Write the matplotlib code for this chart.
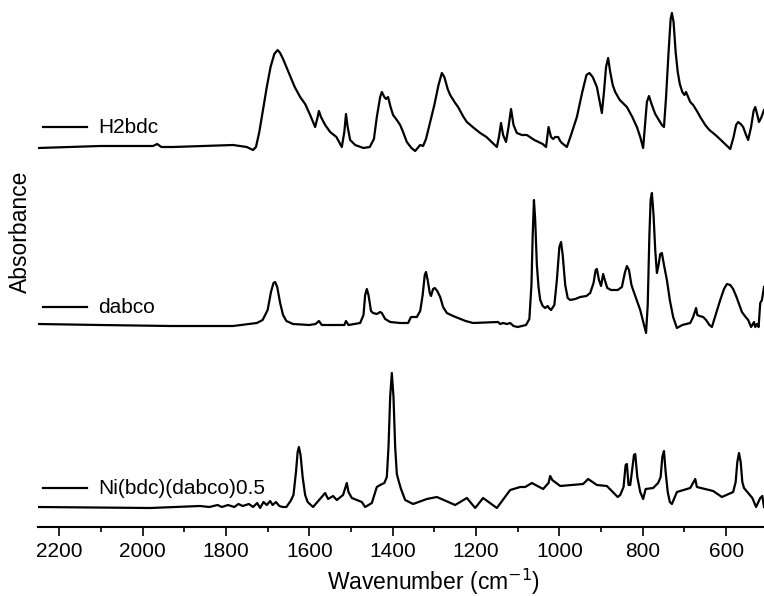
import matplotlib.pyplot as plt
from matplotlib.ticker import MultipleLocator

plt.rcParams['font.family'] = ['Liberation Sans', 'DejaVu Sans']

# --- IR spectra (wavenumber in cm-1, absorbance in a.u.) ---
h2bdc_wn = [2250, 2102, 2000, 1975, 1965, 1955, 1927, 1783, 1750, 1735, 1728, 1720,
            1712, 1702, 1693,
            1684, 1676, 1670, 1663, 1655, 1646, 1635, 1622, 1610, 1598, 1586, 1580,
            1577, 1572, 1562, 1550, 1535, 1522, 1516, 1512, 1508, 1502, 1490, 1470,
            1455, 1445, 1438, 1430, 1426, 1420, 1416, 1411, 1405, 1399, 1390, 1382,
            1375, 1366, 1355, 1346, 1338, 1334, 1327, 1320, 1310, 1300, 1290, 1282,
            1276, 1268, 1262, 1250, 1243, 1230, 1222, 1205, 1190, 1175, 1160, 1150,
            1145, 1140, 1135, 1128, 1122, 1116, 1110, 1102, 1090, 1078, 1060, 1040,
            1032, 1026, 1020, 1015, 1010, 1003, 998, 994, 988, 982, 972, 958, 945,
            935, 928, 920, 910, 903, 898, 893, 888, 883, 878, 872, 866, 855, 838, 825,
            814, 806, 799, 795, 790, 785, 778, 770, 760, 754, 749, 744, 738, 733, 730,
            726, 721, 716, 711, 705, 700, 696, 692, 686, 679, 670, 662, 650, 640, 631,
            620, 605, 590, 582, 576, 571, 565, 559, 552, 547, 540, 534, 530, 525, 521,
            515, 509]
h2bdc_abs = [-0.01, 0.01, 0.01, 0.01, 0.03, 0.0, 0.0, 0.02, 0.0, -0.03, 0.0, 0.15,
             0.35, 0.60, 0.80,
             0.93, 0.97, 0.94, 0.88, 0.80, 0.71, 0.60, 0.50, 0.43, 0.32, 0.20, 0.30,
             0.36, 0.30, 0.22, 0.15, 0.10, 0.0, 0.15, 0.33, 0.20, 0.07, 0.02, -0.01,
             0.0, 0.08, 0.30, 0.50, 0.55, 0.50, 0.48, 0.50, 0.40, 0.32, 0.27, 0.22,
             0.15, 0.05, -0.01, -0.04, 0.0, 0.02, 0.01, 0.08, 0.25, 0.42, 0.62, 0.74,
             0.70, 0.58, 0.52, 0.44, 0.40, 0.30, 0.25, 0.19, 0.14, 0.10, 0.04, 0.0,
             0.10, 0.24, 0.12, 0.05, 0.20, 0.38, 0.22, 0.14, 0.12, 0.12, 0.07, 0.03,
             0.0, 0.20, 0.10, 0.08, 0.10, 0.10, 0.06, 0.04, 0.02, 0.0, 0.12, 0.30, 0.55,
             0.72, 0.74, 0.70, 0.60, 0.45, 0.34, 0.55, 0.80, 0.89, 0.75, 0.62, 0.55,
             0.47, 0.40, 0.30, 0.20, 0.10, -0.01, 0.20, 0.45, 0.51, 0.42, 0.33, 0.26,
             0.22, 0.20, 0.50, 0.95, 1.28, 1.34, 1.25, 0.95, 0.75, 0.63, 0.55, 0.52,
             0.55, 0.51, 0.45, 0.42, 0.36, 0.30, 0.22, 0.17, 0.14, 0.10, 0.04, -0.02,
             0.10, 0.22, 0.25, 0.23, 0.20, 0.12, 0.07, 0.20, 0.36, 0.40, 0.32, 0.25,
             0.30, 0.37]

dabco_wn = [2251, 2102, 1934, 1783, 1726, 1712, 1700, 1692, 1686, 1682, 1677, 1670,
            1663, 1655, 1639, 1600, 1585, 1577, 1570, 1540, 1516, 1512, 1506, 1478,
            1470, 1466, 1462, 1458, 1452, 1447, 1438, 1430, 1426, 1418, 1406, 1382,
            1363, 1356, 1342, 1334, 1328, 1323, 1320, 1316, 1311, 1308, 1303, 1299,
            1293, 1286, 1279, 1270, 1255, 1243, 1225, 1207, 1147, 1142, 1135, 1126,
            1118, 1110, 1100, 1080, 1072, 1067, 1064, 1061, 1058, 1054, 1050, 1046,
            1040, 1034, 1028, 1025, 1020, 1012, 1006, 1000, 996, 992, 986, 980, 974,
            962, 950, 935, 926, 918, 913, 910, 905, 900, 895, 891, 885, 876, 860, 850,
            843, 838, 833, 827, 823, 812, 806, 797, 792, 788, 784, 781, 778, 774, 770,
            766, 762, 758, 754, 749, 742, 735, 727, 718, 705, 686, 679, 675, 672, 669,
            664, 655, 648, 640, 634, 625, 614, 605, 598, 590, 583, 575, 562, 555, 547,
            540, 537, 533, 530, 526, 522, 518, 514, 509]
dabco_abs = [0.01, 0.0, -0.01, -0.01, 0.02, 0.05, 0.15, 0.33, 0.42, 0.43, 0.38, 0.22,
             0.10, 0.04, 0.01, 0.0, 0.01, 0.04, 0.0, 0.0, 0.0, 0.04, 0.0, 0.02,
             0.10, 0.30, 0.36, 0.30, 0.14, 0.12, 0.11, 0.13, 0.12, 0.06, 0.03, 0.02,
             0.02, 0.08, 0.08, 0.14, 0.30, 0.50, 0.53, 0.45, 0.32, 0.29, 0.36, 0.37,
             0.34, 0.28, 0.18, 0.12, 0.09, 0.07, 0.04, 0.02, 0.03, 0.01, 0.02, 0.01,
             0.02, -0.01, -0.02, 0.0, 0.06, 0.40, 0.90, 1.25, 1.05, 0.60, 0.38, 0.25,
             0.19, 0.17, 0.19, 0.17, 0.15, 0.20, 0.45, 0.78, 0.83, 0.70, 0.40, 0.27,
             0.25, 0.26, 0.28, 0.29, 0.32, 0.42, 0.55, 0.56, 0.45, 0.39, 0.51, 0.45,
             0.37, 0.35, 0.35, 0.38, 0.52, 0.59, 0.55, 0.40, 0.35, 0.22, 0.15, 0.0,
             -0.08, 0.20, 0.90, 1.25, 1.32, 1.10, 0.75, 0.52, 0.60, 0.71, 0.72, 0.60,
             0.45, 0.25, 0.08, -0.03, 0.0, 0.02, 0.08, 0.13, 0.17, 0.10, 0.09, 0.08,
             0.05, 0.0, -0.02, 0.10, 0.25, 0.36, 0.41, 0.40, 0.36, 0.28, 0.13, 0.09,
             0.05, -0.02, 0.0, 0.03, -0.02, 0.01, -0.02, 0.22, 0.25, 0.38]

ni_wn = [2251, 1982, 1862, 1840, 1820, 1810, 1795, 1780, 1770, 1760, 1745, 1735,
         1725, 1718, 1710, 1702, 1694, 1688, 1680, 1672, 1664, 1655, 1645, 1638,
         1632, 1628, 1625, 1621, 1616, 1610, 1604, 1591, 1562, 1555, 1543, 1534,
         1519, 1513, 1510, 1506, 1498, 1474, 1466, 1450, 1438, 1430, 1420, 1414,
         1410, 1406, 1402, 1398, 1394, 1390, 1385, 1380, 1370, 1351, 1318, 1294,
         1250, 1222, 1202, 1183, 1150, 1118, 1094, 1082, 1066, 1039, 1026, 1022,
         1017, 998, 943, 931, 910, 886, 860, 854, 846, 841, 838, 834, 830, 826, 821,
         818, 813, 806, 799, 793, 775, 763, 757, 753, 749, 745, 740, 735, 730, 718,
         686, 674, 670, 631, 610, 583, 577, 573, 569, 565, 561, 557, 537, 528, 518,
         513, 509]
ni_abs = [0.0, -0.01, 0.01, 0.0, 0.02, 0.0, 0.02, 0.0, 0.03, 0.01, 0.03, 0.0,
          0.04, -0.01, 0.05, 0.02, 0.06, 0.02, 0.05, 0.01, 0.0, 0.0, 0.06, 0.12,
          0.35, 0.55, 0.60, 0.52, 0.30, 0.12, 0.05, 0.0, 0.14, 0.08, 0.11, 0.07,
          0.12, 0.20, 0.24, 0.15, 0.09, 0.05, 0.0, 0.04, 0.20, 0.22, 0.24, 0.30,
          0.60, 1.10, 1.34, 1.10, 0.60, 0.33, 0.25, 0.18, 0.07, 0.03, 0.08, 0.10,
          0.02, 0.09, -0.01, 0.09, -0.01, 0.17, 0.20, 0.20, 0.24, 0.18, 0.24, 0.31,
          0.27, 0.21, 0.23, 0.28, 0.22, 0.21, 0.10, 0.12, 0.20, 0.42, 0.43, 0.22,
          0.22, 0.35, 0.52, 0.53, 0.30, 0.15, 0.08, 0.18, 0.19, 0.24, 0.30, 0.50,
          0.56, 0.35, 0.15, 0.05, 0.03, 0.15, 0.19, 0.28, 0.20, 0.16, 0.10, 0.15,
          0.25, 0.45, 0.54, 0.45, 0.25, 0.19, 0.09, 0.0, 0.09, 0.11, 0.0]

labels = ["H2bdc", "dabco", "Ni(bdc)(dabco)0.5"]


# --- Draw ---
fig = plt.figure(figsize=(7.64, 5.96), dpi=100)
ax = fig.add_axes([38 / 764, 69 / 596, 726 / 764, 527 / 596])

spectra = [(h2bdc_wn, h2bdc_abs, 3.80, 0.759),
           (dabco_wn, dabco_abs, 2.02, 0.417),
           (ni_wn, ni_abs, 0.20, 0.074)]
for (wn, ab, offset, ly), name in zip(spectra, labels):
    ax.plot(wn, [v + offset for v in ab], color='black', lw=1.6,
            solid_joinstyle='round')
    # legend-like label
    ax.plot([0.007, 0.068], [ly, ly], color='black', lw=1.6, transform=ax.transAxes)
    ax.text(0.083, ly, name, transform=ax.transAxes, fontsize=15, va='center', ha='left')

ax.set_xlim(2251, 509)
ax.set_ylim(0, 5.27)
ax.xaxis.set_major_locator(MultipleLocator(200))
ax.xaxis.set_minor_locator(MultipleLocator(100))
ax.tick_params(axis='x', which='major', direction='out', length=6.5, width=1.2,
               labelsize=15, pad=4)
ax.tick_params(axis='x', which='minor', direction='out', length=3.6, width=1.2)
ax.set_yticks([])
for side in ['top', 'right', 'left']:
    ax.spines[side].set_visible(False)
ax.spines['bottom'].set_linewidth(1.5)

# the original axis ran past the cropped right edge, so the label sits right of centre
ax.set_xlabel("Wavenumber (cm$^{-1}$)", fontsize=16.5)
ax.xaxis.set_label_coords(0.545, -0.076)
fig.text(20 / 764, 1 - 232 / 596, "Absorbance", rotation=90, fontsize=16.5,
         ha='center', va='center')

plt.savefig("out.png", dpi=100)
